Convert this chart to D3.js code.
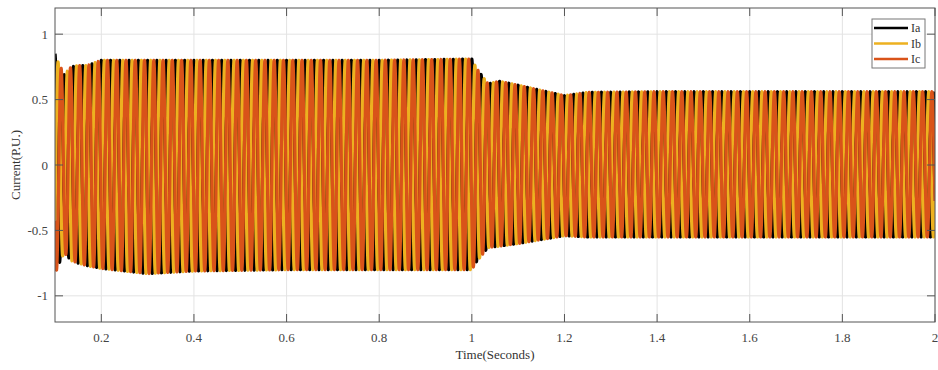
<!DOCTYPE html>
<html><head><meta charset="utf-8">
<script src="https://cdn.jsdelivr.net/npm/d3@7"></script>
<style>body{margin:0;background:#fff}svg{display:block}</style>
</head><body><svg id="c" width="938" height="370"></svg>
<script>
// ---- data ----
const seriesNames = ["Ia", "Ib", "Ic"];
const seriesColors = ["#000000", "#EDB120", "#D95319"];
const phaseDeg = [0, -120, 120];
const freqHz = 50;
// amplitude envelope keyframes (time s, positive peak, negative peak magnitude)
const envTime = [0.100, 0.105, 0.120, 0.135, 0.150, 0.170, 0.200, 0.300, 0.400, 0.600, 0.800, 1.000, 1.010, 1.035, 1.060, 1.100, 1.150, 1.200, 1.250, 1.400, 1.600, 2.000];
const envPos  = [0.85, 0.80, 0.69, 0.75, 0.76, 0.76, 0.80, 0.80, 0.80, 0.80, 0.80, 0.81, 0.74, 0.62, 0.64, 0.61, 0.57, 0.53, 0.555, 0.56, 0.56, 0.56];
const envNeg  = [0.85, 0.78, 0.67, 0.73, 0.75, 0.77, 0.79, 0.83, 0.81, 0.80, 0.80, 0.80, 0.74, 0.63, 0.62, 0.60, 0.57, 0.54, 0.55, 0.55, 0.55, 0.55];
const xTicks = [0.2, 0.4, 0.6, 0.8, 1, 1.2, 1.4, 1.6, 1.8, 2];
const yTicks = [-1, -0.5, 0, 0.5, 1];
const xDomain = [0.1, 2];
const yDomain = [-1.2, 1.2];

// ---- layout ----
const svg = d3.select("#c");
const L = 55, R = 935, T = 8, B = 322;
const x = d3.scaleLinear().domain(xDomain).range([L, R]);
const y = d3.scaleLinear().domain(yDomain).range([B, T]);
const posEnv = d3.scaleLinear().domain(envTime).range(envPos).clamp(true);
const negEnv = d3.scaleLinear().domain(envTime).range(envNeg).clamp(true);

// grid
const g = svg.append("g");
g.selectAll(".gx").data(xTicks).enter().append("line")
  .attr("x1", d => x(d)).attr("x2", d => x(d)).attr("y1", T).attr("y2", B)
  .attr("stroke", "#e3e3e3").attr("stroke-width", 1);
g.selectAll(".gy").data(yTicks).enter().append("line")
  .attr("x1", L).attr("x2", R).attr("y1", d => y(d)).attr("y2", d => y(d))
  .attr("stroke", "#e3e3e3").attr("stroke-width", 1);

// waveforms
const samplesPerCycle = 48;
const N = Math.round((xDomain[1] - xDomain[0]) * freqHz * samplesPerCycle);
const times = d3.range(N + 1).map(i => xDomain[0] + i * (xDomain[1] - xDomain[0]) / N);
const clip = svg.append("clipPath").attr("id", "pc").append("rect")
  .attr("x", L).attr("y", T).attr("width", R - L).attr("height", B - T);
const line = d3.line().x(d => x(d[0])).y(d => y(d[1]));
seriesNames.forEach((name, k) => {
  const ph = phaseDeg[k] * Math.PI / 180;
  const pts = times.map(t => {
    const c = Math.cos(2 * Math.PI * freqHz * t + ph);
    return [t, c >= 0 ? c * posEnv(t) : c * negEnv(t)];
  });
  svg.append("path").datum(pts).attr("d", line)
    .attr("fill", "none").attr("stroke", seriesColors[k]).attr("stroke-width", 3.2)
    .attr("stroke-linejoin", "round")
    .attr("clip-path", "url(#pc)");
});

// axes box
const axCol = "#555";
svg.append("rect").attr("x", L).attr("y", T).attr("width", R - L).attr("height", B - T)
  .attr("fill", "none").attr("stroke", axCol).attr("stroke-width", 1);
const ticks = svg.append("g").attr("stroke", axCol).attr("stroke-width", 1);
xTicks.forEach(d => {
  ticks.append("line").attr("x1", x(d)).attr("x2", x(d)).attr("y1", B).attr("y2", B - 8);
  ticks.append("line").attr("x1", x(d)).attr("x2", x(d)).attr("y1", T).attr("y2", T + 8);
});
yTicks.forEach(d => {
  ticks.append("line").attr("x1", L).attr("x2", L + 8).attr("y1", y(d)).attr("y2", y(d));
  ticks.append("line").attr("x1", R).attr("x2", R - 8).attr("y1", y(d)).attr("y2", y(d));
});

const font = "'Liberation Serif', 'DejaVu Serif', serif";
const fmt = d => String(d);
svg.append("g").selectAll("text").data(xTicks).enter().append("text")
  .attr("x", d => x(d)).attr("y", 342).attr("text-anchor", "middle")
  .attr("font-family", font).attr("font-size", 13).attr("fill", "#444").text(fmt);
svg.append("g").selectAll("text").data(yTicks).enter().append("text")
  .attr("x", 48).attr("y", d => y(d) + 4.5).attr("text-anchor", "end")
  .attr("font-family", font).attr("font-size", 13).attr("fill", "#444").text(fmt);

svg.append("text").attr("x", (L + R) / 2).attr("y", 359).attr("text-anchor", "middle")
  .attr("font-family", font).attr("font-size", 13).attr("fill", "#333").text("Time(Seconds)");
svg.append("text").attr("transform", `translate(20,${(T + B) / 2}) rotate(-90)`)
  .attr("text-anchor", "middle").attr("font-family", font).attr("font-size", 13)
  .attr("fill", "#333").text("Current(P.U.)");

// legend
const lg = svg.append("g").attr("transform", "translate(872,19)");
lg.append("rect").attr("width", 53).attr("height", 49).attr("fill", "#fff")
  .attr("stroke", "#777").attr("stroke-width", 1);
seriesNames.forEach((name, k) => {
  const yy = 9 + k * 15.5;
  lg.append("line").attr("x1", 2).attr("x2", 36).attr("y1", yy).attr("y2", yy)
    .attr("stroke", seriesColors[k]).attr("stroke-width", 2.5);
  lg.append("text").attr("x", 39).attr("y", yy + 4).attr("font-family", font)
    .attr("font-size", 12).attr("fill", "#333").text(name);
});
</script></body></html>
